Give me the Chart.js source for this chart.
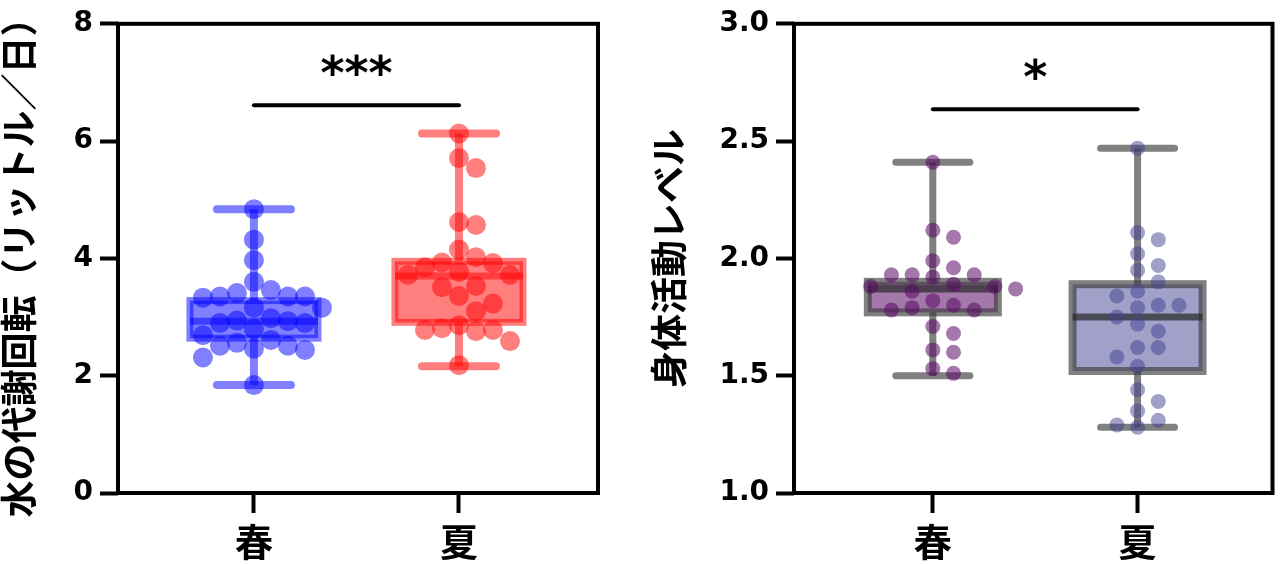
<!DOCTYPE html>
<html lang="ja">
<head>
<meta charset="utf-8">
<title>水の代謝回転と身体活動レベル</title>
<script src="https://cdn.jsdelivr.net/npm/chart.js@4.4.1/dist/chart.umd.min.js"></script>
<style>
html,body{margin:0;padding:0;background:#fff;}
#wrap{display:flex;width:1280px;height:564px;}
.cell{position:relative;width:640px;height:564px;}
</style>
</head>
<body>
<div id="wrap">
  <div class="cell"><canvas id="waterChart"></canvas></div>
  <div class="cell"><canvas id="palChart"></canvas></div>
</div>
<script>
const groups=['春','夏'];

// 水の代謝回転（リットル/日）
const waterSpring=[4.84,4.32,3.97,3.60,3.46,3.41,3.35,3.35,3.35,3.33,3.16,3.16,2.98,2.94,2.93,2.90,2.90,2.80,2.69,2.61,2.56,2.51,2.51,2.46,2.44,2.31,1.84];
const waterSummer=[6.13,5.71,5.54,4.62,4.57,4.15,4.02,3.93,3.92,3.85,3.77,3.72,3.72,3.53,3.51,3.36,3.23,3.10,2.86,2.81,2.78,2.78,2.76,2.59,2.18];
// [min, q1, median, q3, max]
const waterSpringBox=[1.84,2.64,2.93,3.28,4.84];
const waterSummerBox=[2.16,2.91,3.70,3.95,6.13];
const waterTicks=[0,2,4,6,8];
const waterSig={y:6.61,label:'***'};

// 身体活動レベル
const palSpring=[2.41,2.12,2.09,1.99,1.96,1.93,1.93,1.93,1.92,1.89,1.88,1.88,1.87,1.86,1.82,1.80,1.79,1.78,1.78,1.71,1.68,1.61,1.60,1.53,1.51];
const palSummer=[2.47,2.11,2.08,2.02,1.97,1.95,1.90,1.86,1.84,1.80,1.80,1.79,1.75,1.72,1.69,1.62,1.62,1.58,1.54,1.44,1.39,1.35,1.31,1.29,1.28];
const palSpringBox=[1.50,1.77,1.87,1.90,2.41];
const palSummerBox=[1.28,1.52,1.75,1.89,2.47];
const palTicks=[1.0,1.5,2.0,2.5,3.0];
const palSig={y:2.636,label:'*'};

const numFont="'DejaVu Sans', 'Noto Sans CJK JP', sans-serif";
const jpFont="'Noto Sans CJK JP', sans-serif";

// box, whiskers, frame and significance bar, all placed through the chart scales
function boxPlugin(boxes,sig,st){
  return {
    id:'boxes',
    beforeDatasetsDraw(chart){
      const {ctx,scales:{x,y}}=chart;
      ctx.save();
      boxes.forEach((b,i)=>{
        const cx=x.getPixelForValue(i+1);
        const [mn,q1,md,q3,mx]=b.stats.map(v=>y.getPixelForValue(v));
        ctx.strokeStyle=b.line; ctx.lineWidth=st.whisker; ctx.lineCap='butt';
        ctx.beginPath(); ctx.moveTo(cx,q3); ctx.lineTo(cx,mx); ctx.moveTo(cx,q1); ctx.lineTo(cx,mn); ctx.stroke();
        ctx.lineCap='round';
        ctx.beginPath(); ctx.moveTo(cx-st.cap,mx); ctx.lineTo(cx+st.cap,mx); ctx.moveTo(cx-st.cap,mn); ctx.lineTo(cx+st.cap,mn); ctx.stroke();
        ctx.fillStyle=b.fill; ctx.fillRect(cx-st.half,q3,st.half*2,q1-q3);
        ctx.strokeStyle=b.line; ctx.lineWidth=st.border; ctx.lineCap='butt';
        ctx.strokeRect(cx-st.half,q3,st.half*2,q1-q3);
        ctx.strokeStyle=b.median; ctx.lineWidth=st.median;
        ctx.beginPath(); ctx.moveTo(cx-st.half,md); ctx.lineTo(cx+st.half,md); ctx.stroke();
      });
      ctx.restore();
    },
    afterDraw(chart){
      const {ctx,chartArea:a,scales:{x,y}}=chart;
      ctx.save();
      ctx.strokeStyle='#000'; ctx.lineWidth=4;
      ctx.strokeRect(a.left,a.top,a.right-a.left,a.bottom-a.top);
      const sy=y.getPixelForValue(sig.y), x1=x.getPixelForValue(1), x2=x.getPixelForValue(2);
      ctx.lineCap='round';
      ctx.beginPath(); ctx.moveTo(x1,sy); ctx.lineTo(x2,sy); ctx.stroke();
      ctx.fillStyle='#000'; ctx.font='bold 46px '+numFont; ctx.textAlign='center'; ctx.textBaseline='alphabetic';
      ctx.fillText(sig.label,(x1+x2)/2,sy-16);
      ctx.restore();
    }
  };
}

function makeChart(id,o){
  const datasets=o.series.map((s,i)=>({
    type:'scatter',data:s.values.map(v=>({x:i+1,y:v})),
    backgroundColor:s.color,borderWidth:0,pointRadius:o.radius,pointHoverRadius:o.radius
  }));
  const chart=new Chart(document.getElementById(id),{
    type:'scatter',
    data:{datasets},
    options:{
      responsive:true,maintainAspectRatio:false,animation:false,events:[],
      layout:{padding:{left:o.padLeft,right:o.padRight,top:15,bottom:0}},
      plugins:{legend:{display:false},tooltip:{enabled:false}},
      scales:{
        x:{type:'linear',min:o.xMin,max:o.xMax,
          afterBuildTicks:s=>{s.ticks=groups.map((g,i)=>({value:i+1}));},
          afterFit:s=>{s.height=71;},
          ticks:{callback:v=>groups[v-1]||'',color:'#000',padding:6,autoSkip:false,maxRotation:0,font:{family:jpFont,weight:'bold',size:38}},
          grid:{drawOnChartArea:false,tickLength:20,tickWidth:4,tickColor:'#000'},
          border:{display:false}},
        y:{type:'linear',min:o.ticks[0],max:o.ticks[o.ticks.length-1],
          afterBuildTicks:s=>{s.ticks=o.ticks.map(v=>({value:v}));},
          afterFit:s=>{s.width=o.yWidth;},
          ticks:{callback:o.fmt,color:'#000',padding:7,font:{family:numFont,weight:'bold',size:28}},
          grid:{drawOnChartArea:false,tickLength:18,tickWidth:4,tickColor:'#000'},
          border:{display:false},
          title:{display:true,text:o.title,color:'#000',padding:0,font:{family:jpFont,weight:'bold',size:37,lineHeight:1}}}
      }
    },
    plugins:[boxPlugin(o.boxes,o.sig,o.style)]
  });
  // column scatter: spread points sideways so they don't stack
  const xs=chart.scales.x, ys=chart.scales.y;
  const pxX=xs.getPixelForValue(2)-xs.getPixelForValue(1);
  o.series.forEach((s,gi)=>{
    const placed=[], off=new Array(s.values.length);
    s.values.map((v,i)=>i).sort((a,b)=>s.values[b]-s.values[a]).forEach(i=>{
      const py=ys.getPixelForValue(s.values[i]);
      for(let k=0;k<60;k++){
        const dx=(k%2?1:-1)*Math.ceil(k/2)*o.step;
        const hit=placed.some(p=>Math.pow((p.x-dx)/o.step,2)+Math.pow((p.y-py)/o.vMin,2)<0.99);
        if(!hit){placed.push({x:dx,y:py}); off[i]=dx; break;}
      }
    });
    chart.data.datasets[gi].data=s.values.map((v,i)=>({x:gi+1+off[i]/pxX,y:v}));
  });
  chart.update('none');
  return chart;
}

makeChart('waterChart',{
  title:'水の代謝回転（リットル／日）',ticks:waterTicks,fmt:v=>String(v),
  xMin:0.337,xMax:2.678,padLeft:0,padRight:42,yWidth:118,radius:10,step:17,vMin:20,
  series:[{values:waterSpring,color:'rgba(0,0,255,0.5)'},{values:waterSummer,color:'rgba(255,0,0,0.5)'}],
  boxes:[
    {stats:waterSpringBox,fill:'rgba(0,0,255,0.5)',line:'rgba(0,0,255,0.5)',median:'rgba(0,0,255,0.5)'},
    {stats:waterSummerBox,fill:'rgba(255,0,0,0.5)',line:'rgba(255,0,0,0.5)',median:'rgba(255,0,0,0.5)'}
  ],
  sig:waterSig,style:{half:64,cap:37,whisker:8,border:7,median:7}
});

makeChart('palChart',{
  title:'身体活動レベル',ticks:palTicks,fmt:v=>v.toFixed(1),
  xMin:0.322,xMax:2.659,padLeft:10,padRight:7,yWidth:144,radius:7.5,step:20.7,vMin:15,
  series:[{values:palSpring,color:'rgba(90,10,100,0.55)'},{values:palSummer,color:'rgba(65,65,145,0.5)'}],
  boxes:[
    {stats:palSpringBox,fill:'rgba(90,10,100,0.55)',line:'rgba(60,60,60,0.65)',median:'rgba(40,40,40,0.7)'},
    {stats:palSummerBox,fill:'rgba(65,65,145,0.5)',line:'rgba(60,60,60,0.65)',median:'rgba(40,40,40,0.7)'}
  ],
  sig:palSig,style:{half:65,cap:37,whisker:7,border:8,median:7}
});
</script>
</body>
</html>
